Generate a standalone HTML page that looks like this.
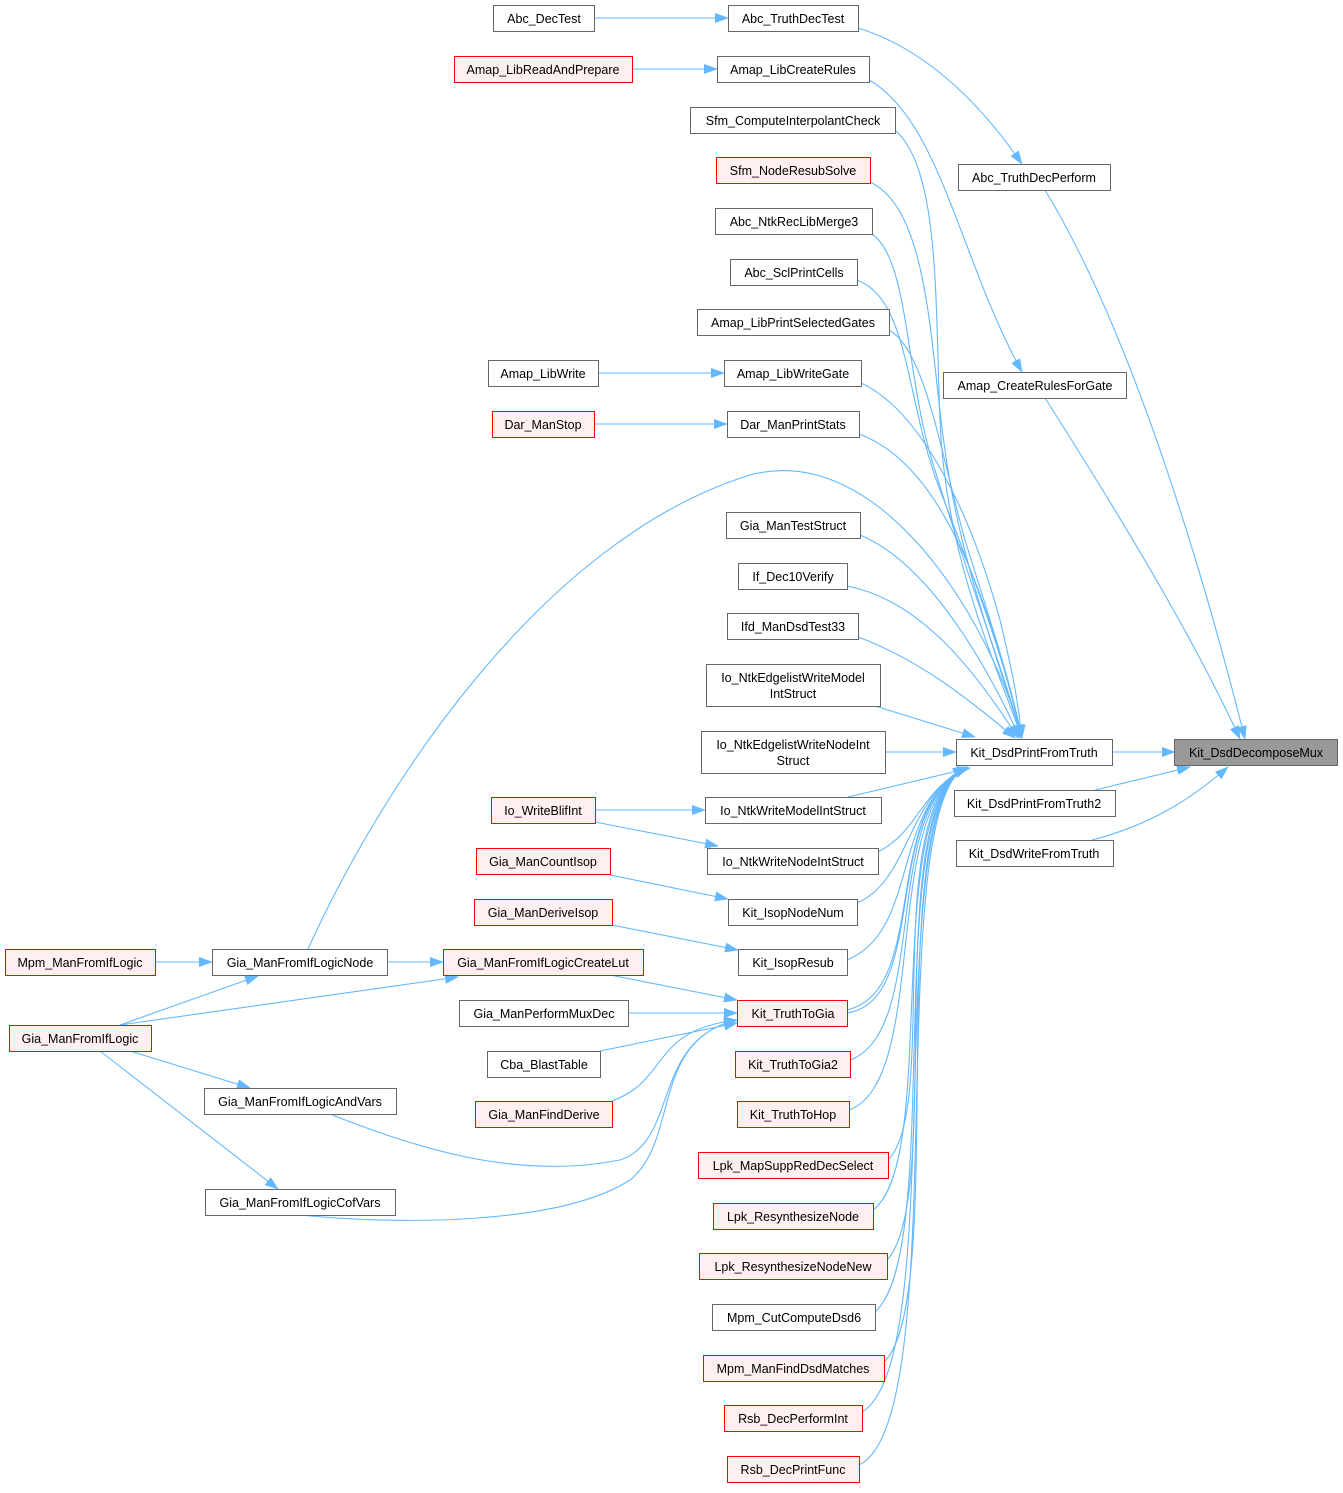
<!DOCTYPE html>
<html><head><meta charset="utf-8"><style>
body{margin:0;background:#fff}
svg text{font-family:"Liberation Sans",Arial,sans-serif;font-size:12.5px;text-anchor:middle;fill:#000}
.n{fill:#fff;stroke:#666;stroke-width:1}
.r{fill:#fff0f0;stroke:#f00;stroke-width:1}
.e{fill:none;stroke:#63b8ff;stroke-width:1.1}
</style></head><body>
<svg width="1343" height="1488" viewBox="0 0 1343 1488" xmlns="http://www.w3.org/2000/svg">
<defs><marker id="a" markerWidth="14" markerHeight="10" refX="13" refY="5" orient="auto" markerUnits="userSpaceOnUse"><path d="M0,0 L14,5 L0,10 z" fill="#63b8ff"/></marker></defs>
<g class="edges" marker-end="url(#a)">
<path class="e" d="M594,18 L728,18" marker-end="url(#a)"/>
<path class="e" d="M632,69 L717,69" marker-end="url(#a)"/>
<path class="e" d="M598,373 L724,373" marker-end="url(#a)"/>
<path class="e" d="M594,424 L727,424" marker-end="url(#a)"/>
<path class="e" d="M858,28 C930,50 985,110 1022,164" marker-end="url(#a)"/>
<path class="e" d="M869,80 C940,120 960,260 1022,372" marker-end="url(#a)"/>
<path class="e" d="M1045,190 C1130,330 1200,560 1245,739" marker-end="url(#a)"/>
<path class="e" d="M1045,398 C1110,500 1190,630 1240,739" marker-end="url(#a)"/>
<path class="e" d="M1112,752 L1175,752" marker-end="url(#a)"/>
<path class="e" d="M1095,790 L1190,767" marker-end="url(#a)"/>
<path class="e" d="M1092,840 C1150,825 1190,800 1228,767" marker-end="url(#a)"/>
<!-- upper to KDPFT -->
<path class="e" d="M895,130 C940,170 935,300 940,420 C945,550 990,650 1022,738" marker-end="url(#a)"/>
<path class="e" d="M870,182 C930,210 930,350 945,450 C960,560 995,650 1022,738" marker-end="url(#a)"/>
<path class="e" d="M872,234 C910,260 905,380 935,470 C965,570 1000,660 1022,738" marker-end="url(#a)"/>
<path class="e" d="M857,280 C910,300 905,400 940,490 C975,580 1005,660 1022,738" marker-end="url(#a)"/>
<path class="e" d="M889,330 C925,350 940,450 965,540 C990,620 1010,680 1022,738" marker-end="url(#a)"/>
<path class="e" d="M861,383 C920,410 970,510 1000,620 C1012,670 1018,700 1022,738" marker-end="url(#a)"/>
<path class="e" d="M859,434 C930,460 980,560 1022,738" marker-end="url(#a)"/>
<path class="e" d="M308,949 C380,790 540,540 750,475 C880,440 990,620 1022,738" marker-end="url(#a)"/>
<path class="e" d="M860,535 C920,560 975,640 1020,738" marker-end="url(#a)"/>
<path class="e" d="M847,586 C920,600 975,670 1018,738" marker-end="url(#a)"/>
<path class="e" d="M858,637 C920,660 970,700 1015,738" marker-end="url(#a)"/>
<path class="e" d="M875,706 L975,737" marker-end="url(#a)"/>
<path class="e" d="M885,752 L956,752" marker-end="url(#a)"/>
<path class="e" d="M848,797 L970,768" marker-end="url(#a)"/>
<!-- lower to KDPFT -->
<path class="e" d="M878,852 C920,830 920,790 968,767" marker-end="url(#a)"/>
<path class="e" d="M857,903 C910,880 905,800 966,767" marker-end="url(#a)"/>
<path class="e" d="M847,960 C920,930 890,810 966,767" marker-end="url(#a)"/>
<path class="e" d="M847,1010 C930,990 880,810 966,767" marker-end="url(#a)"/>
<path class="e" d="M850,1060 C930,1030 880,810 966,767" marker-end="url(#a)"/>
<path class="e" d="M849,1110 C930,1080 880,810 966,767" marker-end="url(#a)"/>
<path class="e" d="M888,1160 C940,1110 880,810 966,767" marker-end="url(#a)"/>
<path class="e" d="M873,1210 C940,1160 880,810 966,767" marker-end="url(#a)"/>
<path class="e" d="M887,1260 C945,1200 880,810 966,767" marker-end="url(#a)"/>
<path class="e" d="M875,1312 C945,1250 880,810 966,767" marker-end="url(#a)"/>
<path class="e" d="M884,1362 C950,1300 880,810 966,767" marker-end="url(#a)"/>
<path class="e" d="M862,1412 C950,1360 880,810 966,767" marker-end="url(#a)"/>
<path class="e" d="M859,1465 C955,1420 880,810 966,767" marker-end="url(#a)"/>
<!-- left cluster -->
<path class="e" d="M595,810 L705,810" marker-end="url(#a)"/>
<path class="e" d="M595,822 L718,846" marker-end="url(#a)"/>
<path class="e" d="M610,875 L728,899" marker-end="url(#a)"/>
<path class="e" d="M612,925 L738,950" marker-end="url(#a)"/>
<path class="e" d="M155,962 L212,962" marker-end="url(#a)"/>
<path class="e" d="M387,962 L443,962" marker-end="url(#a)"/>
<path class="e" d="M120,1025 L258,976" marker-end="url(#a)"/>
<path class="e" d="M120,1025 L458,977" marker-end="url(#a)"/>
<path class="e" d="M130,1051 L250,1088" marker-end="url(#a)"/>
<path class="e" d="M100,1051 L278,1189" marker-end="url(#a)"/>
<path class="e" d="M610,975 L737,1000" marker-end="url(#a)"/>
<path class="e" d="M628,1013 L737,1013" marker-end="url(#a)"/>
<path class="e" d="M600,1051 L737,1023" marker-end="url(#a)"/>
<path class="e" d="M612,1101 C670,1080 650,1030 737,1020" marker-end="url(#a)"/>
<path class="e" d="M330,1114 C420,1150 520,1180 620,1160 C680,1140 650,1040 737,1020" marker-end="url(#a)"/>
<path class="e" d="M300,1215 C400,1225 560,1225 630,1180 C680,1140 650,1040 737,1020" marker-end="url(#a)"/>
<path class="e" d="M847,1013 C930,1000 880,810 966,767" marker-end="url(#a)"/>
</g>
<g>
<rect class="n" x="493.5" y="5.5" width="101" height="26"/><text x="544" y="23">Abc_DecTest</text>
<rect class="n" x="728.5" y="5.5" width="130" height="26"/><text x="793" y="23">Abc_TruthDecTest</text>
<rect class="r" x="454.5" y="56.5" width="178" height="26"/><text x="543" y="74">Amap_LibReadAndPrepare</text>
<rect class="n" x="717.5" y="56.5" width="152" height="26"/><text x="793" y="74">Amap_LibCreateRules</text>
<rect class="n" x="690.5" y="107.5" width="205" height="26"/><text x="793" y="125">Sfm_ComputeInterpolantCheck</text>
<rect class="r" x="716.5" y="157.5" width="154" height="26"/><text x="793" y="175">Sfm_NodeResubSolve</text>
<rect class="n" x="715.5" y="208.5" width="157" height="26"/><text x="794" y="226">Abc_NtkRecLibMerge3</text>
<rect class="n" x="730.5" y="259.5" width="127" height="26"/><text x="794" y="277">Abc_SclPrintCells</text>
<rect class="n" x="697.5" y="309.5" width="192" height="26"/><text x="793" y="327">Amap_LibPrintSelectedGates</text>
<rect class="n" x="488.5" y="360.5" width="110" height="26"/><text x="543" y="378">Amap_LibWrite</text>
<rect class="n" x="724.5" y="360.5" width="137" height="26"/><text x="793" y="378">Amap_LibWriteGate</text>
<rect class="r" x="492.5" y="411.5" width="102" height="26"/><text x="543" y="429">Dar_ManStop</text>
<rect class="n" x="727.5" y="411.5" width="132" height="26"/><text x="793" y="429">Dar_ManPrintStats</text>
<rect class="n" x="726.5" y="512.5" width="134" height="26"/><text x="793" y="530">Gia_ManTestStruct</text>
<rect class="n" x="738.5" y="563.5" width="109" height="26"/><text x="793" y="581">If_Dec10Verify</text>
<rect class="n" x="727.5" y="613.5" width="131" height="26"/><text x="793" y="631">Ifd_ManDsdTest33</text>
<rect class="n" x="706.5" y="664.5" width="174" height="42"/><text x="793" y="682">Io_NtkEdgelistWriteModel</text><text x="793" y="698">IntStruct</text>
<rect class="n" x="701.5" y="731.5" width="184" height="42"/><text x="793" y="749">Io_NtkEdgelistWriteNodeInt</text><text x="793" y="765">Struct</text>
<rect class="r" x="491.5" y="797.5" width="104" height="26"/><text x="543" y="815">Io_WriteBlifInt</text>
<rect class="n" x="705.5" y="797.5" width="176" height="26"/><text x="793" y="815">Io_NtkWriteModelIntStruct</text>
<rect class="r" x="476.5" y="848.5" width="134" height="26"/><text x="543" y="866">Gia_ManCountIsop</text>
<rect class="n" x="707.5" y="848.5" width="171" height="26"/><text x="793" y="866">Io_NtkWriteNodeIntStruct</text>
<rect class="r" x="474.5" y="899.5" width="138" height="26"/><text x="543" y="917">Gia_ManDeriveIsop</text>
<rect class="n" x="728.5" y="899.5" width="129" height="26"/><text x="793" y="917">Kit_IsopNodeNum</text>
<rect class="r" x="5.5" y="949.5" width="150" height="26"/><text x="80" y="967">Mpm_ManFromIfLogic</text>
<rect class="n" x="212.5" y="949.5" width="175" height="26"/><text x="300" y="967">Gia_ManFromIfLogicNode</text>
<rect class="r" x="443.5" y="949.5" width="200" height="26"/><text x="543" y="967">Gia_ManFromIfLogicCreateLut</text>
<rect class="n" x="738.5" y="949.5" width="109" height="26"/><text x="793" y="967">Kit_IsopResub</text>
<rect class="n" x="459.5" y="1000.5" width="169" height="26"/><text x="544" y="1018">Gia_ManPerformMuxDec</text>
<rect class="r" x="737.5" y="1000.5" width="110" height="26"/><text x="793" y="1018">Kit_TruthToGia</text>
<rect class="r" x="9.5" y="1025.5" width="142" height="26"/><text x="80" y="1043">Gia_ManFromIfLogic</text>
<rect class="n" x="487.5" y="1051.5" width="113" height="26"/><text x="544" y="1069">Cba_BlastTable</text>
<rect class="r" x="735.5" y="1051.5" width="115" height="26"/><text x="793" y="1069">Kit_TruthToGia2</text>
<rect class="n" x="204.5" y="1088.5" width="192" height="26"/><text x="300" y="1106">Gia_ManFromIfLogicAndVars</text>
<rect class="r" x="475.5" y="1101.5" width="137" height="26"/><text x="544" y="1119">Gia_ManFindDerive</text>
<rect class="r" x="737.5" y="1101.5" width="112" height="26"/><text x="793" y="1119">Kit_TruthToHop</text>
<rect class="r" x="698.5" y="1152.5" width="190" height="26"/><text x="793" y="1170">Lpk_MapSuppRedDecSelect</text>
<rect class="n" x="205.5" y="1189.5" width="190" height="26"/><text x="300" y="1207">Gia_ManFromIfLogicCofVars</text>
<rect class="r" x="713.5" y="1203.5" width="160" height="26"/><text x="793" y="1221">Lpk_ResynthesizeNode</text>
<rect class="r" x="699.5" y="1253.5" width="188" height="26"/><text x="793" y="1271">Lpk_ResynthesizeNodeNew</text>
<rect class="n" x="712.5" y="1304.5" width="163" height="26"/><text x="794" y="1322">Mpm_CutComputeDsd6</text>
<rect class="r" x="703.5" y="1355.5" width="181" height="26"/><text x="793" y="1373">Mpm_ManFindDsdMatches</text>
<rect class="r" x="724.5" y="1405.5" width="138" height="26"/><text x="793" y="1423">Rsb_DecPerformInt</text>
<rect class="r" x="727.5" y="1456.5" width="132" height="26"/><text x="793" y="1474">Rsb_DecPrintFunc</text>
<rect class="n" x="958.5" y="164.5" width="152" height="26"/><text x="1034" y="182">Abc_TruthDecPerform</text>
<rect class="n" x="943.5" y="372.5" width="183" height="26"/><text x="1035" y="390">Amap_CreateRulesForGate</text>
<rect class="n" x="956.5" y="739.5" width="156" height="26"/><text x="1034" y="757">Kit_DsdPrintFromTruth</text>
<rect class="n" x="954.5" y="790.5" width="161" height="26"/><text x="1034" y="808">Kit_DsdPrintFromTruth2</text>
<rect class="n" x="956.5" y="840.5" width="157" height="26"/><text x="1034" y="858">Kit_DsdWriteFromTruth</text>
<rect x="1174.5" y="739.5" width="163" height="26" fill="#999" stroke="#666"/><text x="1256" y="757">Kit_DsdDecomposeMux</text>
</g>
</svg>
</body></html>
